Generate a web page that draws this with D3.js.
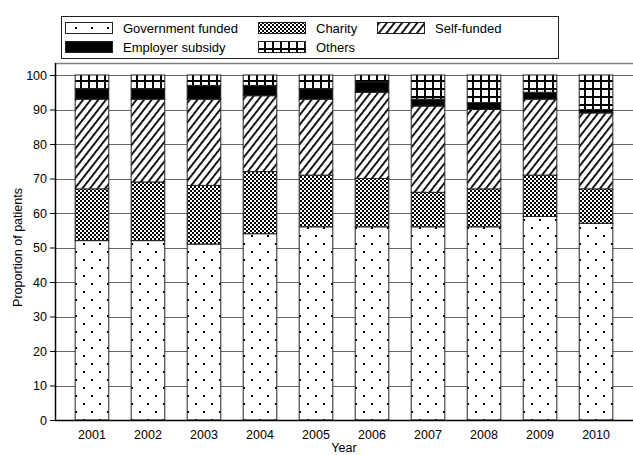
<!DOCTYPE html>
<html><head><meta charset="utf-8">
<script src="https://cdn.jsdelivr.net/npm/d3@7"></script>
<style>body{margin:0;background:#fff}svg{display:block;font-family:"Liberation Sans",Arial,sans-serif}</style>
</head><body><svg id="c" width="633" height="455"></svg>
<script>
const years = ["2001","2002","2003","2004","2005","2006","2007","2008","2009","2010"];
const government = [52,52,51,54,56,56,56,56,59,57];
const charity    = [15,17,17,18,15,14,10,11,12,10];
const selfFunded = [26,24,25,22,22,25,25,23,22,22];
const employer   = [3,3,4,3,3,3,2,2,2,1];
const others     = [4,4,3,3,4,2,7,8,5,10];
const seriesNames = ["Government funded","Charity","Self-funded","Employer subsidy","Others"];
const yTicks = [0,10,20,30,40,50,60,70,80,90,100];

const svg = d3.select("#c");
const defs = svg.append("defs");
let p = defs.append("pattern").attr("id","pGov").attr("patternUnits","userSpaceOnUse").attr("width",16).attr("height",16);
p.append("rect").attr("width",16).attr("height",16).attr("fill","#fff");
p.append("rect").attr("x",3).attr("y",3).attr("width",2).attr("height",2).attr("fill","#000");
p.append("rect").attr("x",11).attr("y",11).attr("width",2).attr("height",2).attr("fill","#000");

p = defs.append("pattern").attr("id","pChar").attr("patternUnits","userSpaceOnUse").attr("width",4).attr("height",4);
p.append("rect").attr("width",4).attr("height",4).attr("fill","#fff");
p.append("rect").attr("x",0).attr("y",0).attr("width",2).attr("height",2).attr("fill","#000");
p.append("rect").attr("x",2).attr("y",2).attr("width",2).attr("height",2).attr("fill","#000");

p = defs.append("pattern").attr("id","pSelf").attr("patternUnits","userSpaceOnUse").attr("width",6).attr("height",6).attr("patternTransform","rotate(38)");
p.append("rect").attr("width",6).attr("height",6).attr("fill","#fff");
p.append("rect").attr("x",0).attr("y",0).attr("width",1.8).attr("height",6).attr("fill","#000");

p = defs.append("pattern").attr("id","pOth").attr("patternUnits","userSpaceOnUse").attr("width",8).attr("height",8);
p.append("rect").attr("width",8).attr("height",8).attr("fill","#fff");
p.append("rect").attr("x",0).attr("y",0).attr("width",8).attr("height",2).attr("fill","#000");
p.append("rect").attr("x",0).attr("y",0).attr("width",2).attr("height",8).attr("fill","#000");

const fills = ["url(#pGov)","url(#pChar)","url(#pSelf)","#000","url(#pOth)"];

const mLeft = 55, mRight = 633, mTop = 63, mBottom = 420;
const x = d3.scaleBand().domain(years).range([mLeft,mRight]).paddingInner(0.4).paddingOuter(0.36);
const y = d3.scaleLinear().domain([0,100]).range([mBottom,75]);

svg.append("g").selectAll("line").data(yTicks.filter(t=>t>0)).join("line")
  .attr("x1",mLeft).attr("x2",mRight).attr("y1",d=>Math.round(y(d))+0.5).attr("y2",d=>Math.round(y(d))+0.5)
  .attr("stroke","#666").attr("stroke-width",1);
svg.append("line").attr("x1",mLeft).attr("x2",mRight).attr("y1",mTop+0.5).attr("y2",mTop+0.5).attr("stroke","#808080").attr("stroke-width",1.5);

const rows = years.map((yr,i)=>({year:yr,"Government funded":government[i],"Charity":charity[i],"Self-funded":selfFunded[i],"Employer subsidy":employer[i],"Others":others[i]}));
const stacked = d3.stack().keys(seriesNames)(rows);

svg.append("g").selectAll("g").data(stacked).join("g")
  .attr("fill",(d,i)=>fills[i])
  .selectAll("rect").data(d=>d).join("rect")
  .attr("x",d=>x(d.data.year)).attr("width",x.bandwidth())
  .attr("y",d=>y(d[1])).attr("height",d=>y(d[0])-y(d[1]))
  .attr("stroke","#222").attr("stroke-width",1);

const yAxis = d3.axisLeft(y).tickValues(yTicks).tickSize(5).tickSizeOuter(0);
const gy = svg.append("g").attr("transform",`translate(${mLeft},0)`).call(yAxis);
gy.select(".domain").remove();
gy.selectAll("text").attr("font-size",12.5).attr("fill","#000").attr("font-family","Liberation Sans, Arial, sans-serif");
gy.selectAll("line").attr("stroke","#000");
svg.append("line").attr("x1",mLeft+0.5).attr("x2",mLeft+0.5).attr("y1",mTop).attr("y2",mBottom+0.5).attr("stroke","#000").attr("stroke-width",1.5);

const xAxis = d3.axisBottom(x).tickSize(0).tickPadding(10);
const gx = svg.append("g").attr("transform",`translate(0,${mBottom})`).call(xAxis);
gx.select(".domain").remove();
gx.selectAll("text").attr("font-size",12.5).attr("fill","#000").attr("font-family","Liberation Sans, Arial, sans-serif");
svg.append("line").attr("x1",mLeft).attr("x2",mRight).attr("y1",mBottom+0.5).attr("y2",mBottom+0.5).attr("stroke","#000").attr("stroke-width",1.5);

svg.append("text").attr("x",(mLeft+mRight)/2).attr("y",452).attr("text-anchor","middle").attr("font-size",12.5).text("Year");
svg.append("text").attr("transform",`translate(22,${(mBottom+75)/2}) rotate(-90)`).attr("text-anchor","middle").attr("font-size",12.5).text("Proportion of patients");

const lg = svg.append("g");
lg.append("rect").attr("x",61.5).attr("y",16.5).attr("width",497).attr("height",42).attr("fill","#fff").attr("stroke","#222");
const legPos = [[65,22],[258,22],[377,22],[65,41],[258,41]];
seriesNames.forEach((n,i)=>{
  const [lx,ly] = legPos[i];
  lg.append("rect").attr("x",lx+0.5).attr("y",ly+0.5).attr("width",47).attr("height",11).attr("fill",fills[i]).attr("stroke","#222");
  lg.append("text").attr("x",lx+58).attr("y",ly+11).attr("font-size",13).text(n);
});
</script></body></html>
